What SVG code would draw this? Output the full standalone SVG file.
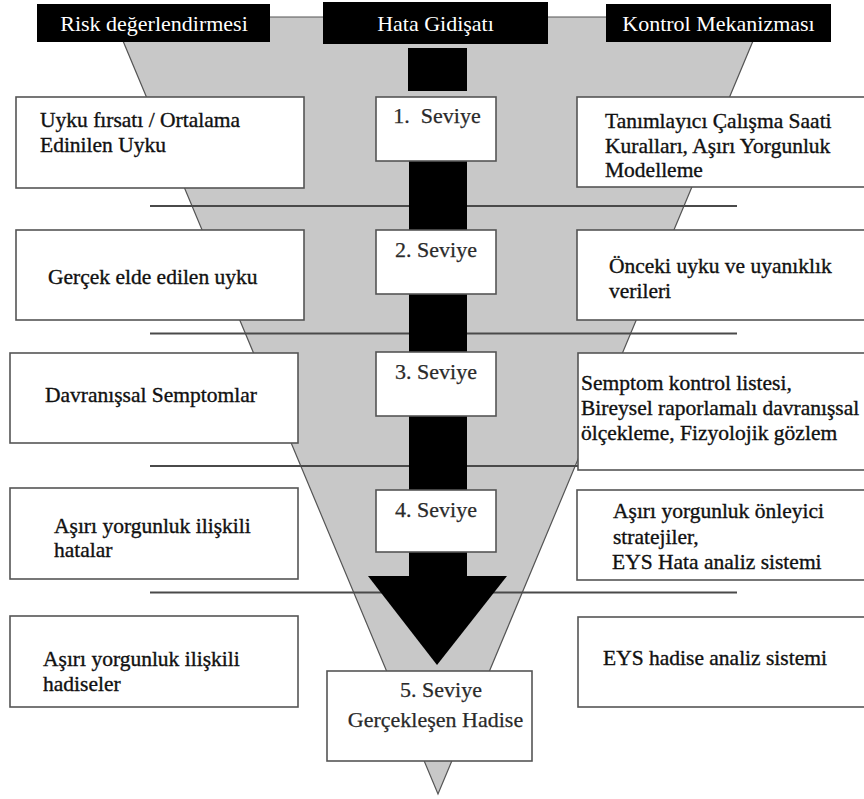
<svg xmlns="http://www.w3.org/2000/svg" width="864" height="799" viewBox="0 0 864 799">
  <style>
    .hdr { fill: #000; }
    .hdr-t { font-family: "Liberation Serif", "Times New Roman", serif; font-size: 22px; fill: #fff; text-anchor: middle; }
    .box { fill: #fff; stroke: #555; stroke-width: 1.6; }
    .t { font-family: "Liberation Serif", "Times New Roman", serif; font-size: 21.5px; fill: #111; stroke: #111; stroke-width: 0.35; }
    .lv { font-family: "Liberation Serif", "Times New Roman", serif; font-size: 22px; fill: #2a2a2a; stroke: #2a2a2a; stroke-width: 0.25; text-anchor: middle; }
    .sep { stroke: #4a4a4a; stroke-width: 2; }
  </style>

  <rect width="864" height="799" fill="#fff"/>

  <!-- funnel background -->
  <polygon id="funnel" points="113,17 763,17 438,794" fill="#c8c8c8" stroke="#555" stroke-width="1.2"/>

  <!-- level separators -->
  <g id="separators">
    <line class="sep" x1="150" y1="206" x2="737" y2="206"/>
    <line class="sep" x1="150" y1="333.5" x2="737" y2="333.5"/>
    <line class="sep" x1="150" y1="466" x2="737" y2="466"/>
    <line class="sep" x1="150" y1="592.5" x2="737" y2="592.5"/>
  </g>

  <!-- error progression arrow -->
  <g id="connectors">
    <rect x="408" y="48" width="59" height="43" fill="#000"/>
    <rect x="409" y="160" width="58" height="418" fill="#000"/>
    <polygon points="368,576 507,576 437,665" fill="#000"/>
  </g>

  <!-- column headers -->
  <g id="header-risk">
    <rect class="hdr" x="37" y="4" width="233" height="38"/>
    <text class="hdr-t" x="154" y="31">Risk değerlendirmesi</text>
  </g>
  <g id="header-hata">
    <rect class="hdr" x="323" y="2" width="225" height="42"/>
    <text class="hdr-t" x="435.5" y="31">Hata Gidişatı</text>
  </g>
  <g id="header-kontrol">
    <rect class="hdr" x="606" y="4" width="225" height="38"/>
    <text class="hdr-t" x="718.5" y="31">Kontrol Mekanizması</text>
  </g>

  <!-- risk assessment column -->
  <g id="risk-1">
    <rect class="box" x="16" y="97" width="288" height="91"/>
    <text class="t" x="40" y="127">Uyku fırsatı / Ortalama</text>
    <text class="t" x="40" y="152">Edinilen Uyku</text>
  </g>
  <g id="risk-2">
    <rect class="box" x="16" y="230" width="288" height="90"/>
    <text class="t" x="48" y="284">Gerçek elde edilen uyku</text>
  </g>
  <g id="risk-3">
    <rect class="box" x="10" y="353" width="288" height="90"/>
    <text class="t" x="45" y="402">Davranışsal Semptomlar</text>
  </g>
  <g id="risk-4">
    <rect class="box" x="10" y="488" width="288" height="91"/>
    <text class="t" x="54" y="533">Aşırı yorgunluk ilişkili</text>
    <text class="t" x="54" y="557">hatalar</text>
  </g>
  <g id="risk-5">
    <rect class="box" x="10" y="616" width="288" height="91"/>
    <text class="t" x="43" y="666">Aşırı yorgunluk ilişkili</text>
    <text class="t" x="43" y="691">hadiseler</text>
  </g>

  <!-- error levels -->
  <g id="level-1">
    <rect class="box" x="376" y="97" width="120" height="64"/>
    <text class="lv" x="437" y="123" xml:space="preserve">1.  Seviye</text>
  </g>
  <g id="level-2">
    <rect class="box" x="376" y="230" width="120" height="64"/>
    <text class="lv" x="436" y="257">2. Seviye</text>
  </g>
  <g id="level-3">
    <rect class="box" x="376" y="352" width="120" height="64"/>
    <text class="lv" x="436" y="379">3. Seviye</text>
  </g>
  <g id="level-4">
    <rect class="box" x="376" y="490" width="120" height="62"/>
    <text class="lv" x="436" y="517">4. Seviye</text>
  </g>
  <g id="level-5">
    <rect class="box" x="327" y="671" width="205" height="90"/>
    <text class="lv" x="441" y="697">5. Seviye</text>
    <text class="lv" x="435.5" y="727" fill="#111">Gerçekleşen Hadise</text>
  </g>

  <!-- control mechanism column -->
  <g id="kontrol-1">
    <rect class="box" x="577" y="97" width="290" height="90"/>
    <text class="t" x="605" y="128">Tanımlayıcı Çalışma Saati</text>
    <text class="t" x="605" y="153">Kuralları, Aşırı Yorgunluk</text>
    <text class="t" x="605" y="177">Modelleme</text>
  </g>
  <g id="kontrol-2">
    <rect class="box" x="577" y="230" width="290" height="90"/>
    <text class="t" x="609" y="273">Önceki uyku ve uyanıklık</text>
    <text class="t" x="609" y="298">verileri</text>
  </g>
  <g id="kontrol-3">
    <rect class="box" x="578" y="353" width="290" height="117"/>
    <text class="t" x="581" y="390">Semptom kontrol listesi,</text>
    <text class="t" x="581" y="415">Bireysel raporlamalı davranışsal</text>
    <text class="t" x="581" y="440">ölçekleme, Fizyolojik gözlem</text>
  </g>
  <g id="kontrol-4">
    <rect class="box" x="577" y="490" width="290" height="90"/>
    <text class="t" x="613" y="518">Aşırı yorgunluk önleyici</text>
    <text class="t" x="613" y="544">stratejiler,</text>
    <text class="t" x="612" y="569">EYS Hata analiz sistemi</text>
  </g>
  <g id="kontrol-5">
    <rect class="box" x="578" y="617" width="290" height="90"/>
    <text class="t" x="603" y="665">EYS hadise analiz sistemi</text>
  </g>
</svg>
